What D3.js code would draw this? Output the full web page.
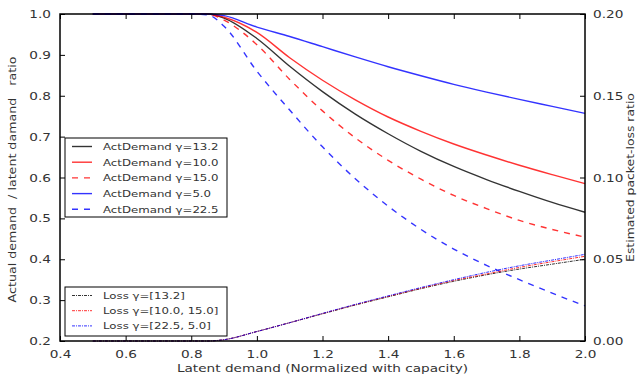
<!DOCTYPE html>
<html>
<head>
<meta charset="utf-8">
<script src="https://cdn.jsdelivr.net/npm/d3@7"></script>
<style>
  body { margin: 0; background: #fff; }
  text { font-family: "DejaVu Sans", sans-serif; fill: #333; }
</style>
</head>
<body>
<script>
// Latent demand samples (x axis)
var xs = [0.5, 0.6, 0.7, 0.8, 0.85, 0.9, 1.0, 1.1, 1.2, 1.3, 1.4, 1.5, 1.6, 1.7, 1.8, 1.9, 2.0];

// Actual / latent demand ratio (left axis)
var act132 = [1, 1, 1, 1, 1, 0.99, 0.94, 0.872, 0.81, 0.755, 0.707, 0.664, 0.627, 0.595, 0.566, 0.539, 0.515];
var act100 = [1, 1, 1, 1, 1, 0.992, 0.955, 0.893, 0.838, 0.79, 0.748, 0.713, 0.682, 0.655, 0.63, 0.607, 0.585];
var act150 = [1, 1, 1, 1, 1, 0.985, 0.925, 0.84, 0.763, 0.697, 0.642, 0.596, 0.556, 0.524, 0.495, 0.473, 0.454];
var act50 = [1, 1, 1, 1, 1, 0.996, 0.968, 0.945, 0.92, 0.895, 0.871, 0.849, 0.828, 0.809, 0.791, 0.774, 0.757];
var act225 = [1, 1, 1, 1, 0.998, 0.97, 0.86, 0.765, 0.675, 0.597, 0.53, 0.473, 0.425, 0.385, 0.35, 0.317, 0.286];

// Estimated packet-loss ratio (right axis)
var loss132 = [0, 0, 0, 0, 0, 0.0008, 0.0058, 0.0112, 0.0166, 0.022, 0.027, 0.032, 0.0365, 0.0405, 0.044, 0.047, 0.050];
var loss100 = [0, 0, 0, 0, 0, 0.0008, 0.0058, 0.0112, 0.0168, 0.0222, 0.0273, 0.0323, 0.037, 0.041, 0.045, 0.0485, 0.0518];
var loss225 = [0, 0, 0, 0, 0, 0.0008, 0.0058, 0.0112, 0.0169, 0.0224, 0.0276, 0.0327, 0.0375, 0.042, 0.046, 0.0495, 0.053];

var xTicks = [0.4, 0.6, 0.8, 1.0, 1.2, 1.4, 1.6, 1.8, 2.0];
var yTicks = [0.2, 0.3, 0.4, 0.5, 0.6, 0.7, 0.8, 0.9, 1.0];
var y2Ticks = [0.00, 0.05, 0.10, 0.15, 0.20];

var actSeries = [
  { label: "ActDemand \u03b3=13.2", values: act132, color: "#000", dash: null },
  { label: "ActDemand \u03b3=10.0", values: act100, color: "#ff0000", dash: null },
  { label: "ActDemand \u03b3=15.0", values: act150, color: "#ff0000", dash: "6,6" },
  { label: "ActDemand \u03b3=5.0", values: act50, color: "#0000ff", dash: null },
  { label: "ActDemand \u03b3=22.5", values: act225, color: "#0000ff", dash: "6,6" }
];
var lossSeries = [
  { label: "Loss \u03b3=[13.2]", values: loss132, color: "#000" },
  { label: "Loss \u03b3=[10.0, 15.0]", values: loss100, color: "#ff0000" },
  { label: "Loss \u03b3=[22.5, 5.0]", values: loss225, color: "#0000ff" }
];

var svgWidth = 641;
var svgHeight = 375;
var margin = { top: 14, right: 56, bottom: 34, left: 60 };
var chartWidth = 585 - margin.left;
var chartHeight = 341 - margin.top;

// the original text looks horizontally stretched
var stretch = 1.24;

var svg = d3.select("body").append("svg")
  .attr("width", svgWidth)
  .attr("height", svgHeight);

var chartGroup = svg.append("g")
  .attr("transform", `translate(${margin.left}, ${margin.top})`);

var xScale = d3.scaleLinear().domain([0.4, 2.0]).range([0, chartWidth]);
var yScale = d3.scaleLinear().domain([0.2, 1.0]).range([chartHeight, 0]);
var y2Scale = d3.scaleLinear().domain([0, 0.2]).range([chartHeight, 0]);

// widen a text element around its anchor point
function widen(sel, extra, k) {
  sel.each(function() {
    var t = d3.select(this);
    var x = +t.attr("x") || 0;
    var y = +t.attr("y") || 0;
    t.attr("x", 0).attr("y", 0)
      .attr("transform", `translate(${x}, ${y}) ${extra || ""} scale(${k || stretch}, 1)`);
  });
}

// curves
actSeries.forEach(function(s) {
  var line = d3.line()
    .x((d, i) => xScale(xs[i]))
    .y(d => yScale(d))
    .curve(d3.curveMonotoneX);
  chartGroup.append("path")
    .datum(s.values)
    .attr("d", line)
    .attr("fill", "none")
    .attr("stroke", s.color)
    .attr("stroke-opacity", 0.8)
    .attr("stroke-width", 1.4)
    .attr("stroke-dasharray", s.dash);
});

lossSeries.forEach(function(s) {
  var line = d3.line()
    .x((d, i) => xScale(xs[i]))
    .y(d => y2Scale(d))
    .curve(d3.curveMonotoneX);
  chartGroup.append("path")
    .datum(s.values)
    .attr("d", line)
    .attr("fill", "none")
    .attr("stroke", s.color)
    .attr("stroke-opacity", 0.8)
    .attr("stroke-width", 1)
    .attr("stroke-dasharray", "3,1,1,1");
});

// axes: inward ticks, frame drawn separately
function styleAxis(g) {
  g.select(".domain").remove();
  g.selectAll(".tick line").attr("stroke", "#000");
  g.selectAll(".tick text")
    .style("font-family", "DejaVu Sans, sans-serif")
    .style("font-size", "11px")
    .attr("fill", "#333")
    .call(widen);
}

chartGroup.append("g")
  .attr("transform", `translate(0, ${chartHeight})`)
  .call(d3.axisBottom(xScale).tickValues(xTicks).tickFormat(d3.format(".1f")).tickSizeInner(-5).tickPadding(9))
  .call(styleAxis);

chartGroup.append("g")
  .call(d3.axisTop(xScale).tickValues(xTicks).tickFormat("").tickSizeInner(-5))
  .call(styleAxis);

chartGroup.append("g")
  .call(d3.axisLeft(yScale).tickValues(yTicks).tickFormat(d3.format(".1f")).tickSizeInner(-5).tickPadding(9))
  .call(styleAxis);

chartGroup.append("g")
  .attr("transform", `translate(${chartWidth}, 0)`)
  .call(d3.axisRight(y2Scale).tickValues(y2Ticks).tickFormat(d3.format(".2f")).tickSizeInner(-5).tickPadding(8))
  .call(styleAxis);

// frame
chartGroup.append("rect")
  .attr("width", chartWidth)
  .attr("height", chartHeight)
  .attr("fill", "none")
  .attr("stroke", "#000")
  .attr("stroke-width", 1.5);

// legends
function drawLegend(items, x0, y0, w, h, rowH, isLoss) {
  var lg = chartGroup.append("g")
    .attr("transform", `translate(${x0 - margin.left}, ${y0 - margin.top})`);
  lg.append("rect")
    .attr("width", w)
    .attr("height", h)
    .attr("fill", "#fff")
    .attr("stroke", "#000")
    .attr("stroke-width", 1);
  items.forEach(function(s, i) {
    var cy = 8.5 + i * rowH;
    lg.append("line")
      .attr("x1", 7).attr("x2", 27)
      .attr("y1", cy).attr("y2", cy)
      .attr("stroke", s.color)
      .attr("stroke-opacity", 0.8)
      .attr("stroke-width", isLoss ? 1 : 1.4)
      .attr("stroke-dasharray", isLoss ? "3,1,1,1" : s.dash);
    lg.append("text")
      .attr("x", 38)
      .attr("y", cy)
      .attr("dy", "0.35em")
      .style("font-size", "9.5px")
      .text(s.label)
      .call(widen);
  });
}

drawLegend(actSeries, 65, 138, 162, 79, 15.7, false);
drawLegend(lossSeries, 65, 287, 162, 49, 15.2, true);

// axis titles
svg.append("text")
  .attr("x", margin.left + chartWidth / 2)
  .attr("y", 372)
  .attr("text-anchor", "middle")
  .style("font-size", "11px")
  .text("Latent demand (Normalized with capacity)")
  .call(widen);

svg.append("text")
  .attr("x", 16)
  .attr("y", margin.top + chartHeight / 2 + 2)
  .attr("text-anchor", "middle")
  .style("font-size", "11px")
  .attr("xml:space", "preserve")
  .text("Actual demand  / latent damand   ratio")
  .call(widen, "rotate(-90)", 1.15);

svg.append("text")
  .attr("x", 634)
  .attr("y", margin.top + chartHeight / 2)
  .attr("text-anchor", "middle")
  .style("font-size", "10px")
  .text("Estimated packet-loss ratio")
  .call(widen, "rotate(-90)");
</script>
</body>
</html>
